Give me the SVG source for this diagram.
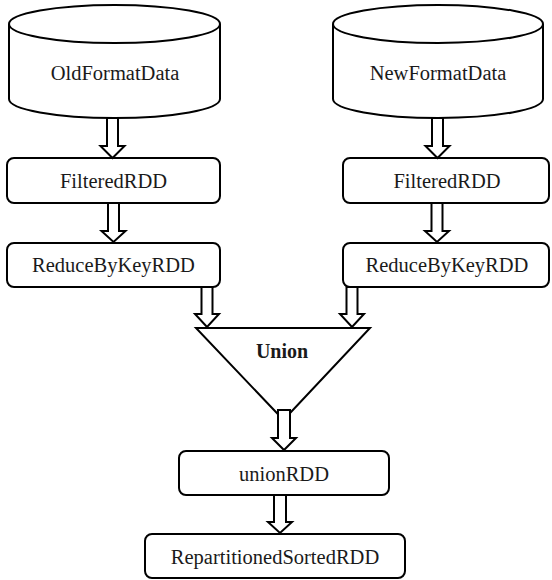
<svg xmlns="http://www.w3.org/2000/svg" width="552" height="580" viewBox="0 0 552 580">
<style>
.s{fill:#fff;stroke:#000;stroke-width:2}
.t{font-family:'Liberation Serif','Times New Roman',Times,serif;font-size:20.5px;fill:#1a1a1a;text-anchor:middle}
.b{font-weight:bold;font-size:20px}
.a{fill:#fff;stroke:#000;stroke-width:2;stroke-linejoin:miter}
</style>
<rect width="552" height="580" fill="#fff"/>
<g id="oldFormatData">
<path class="s" d="M9,24 V99 A105.5,19 0 0 0 220,99 V24"/>
<ellipse class="s" cx="114.5" cy="24" rx="105.5" ry="19"/>
<text class="t" x="115" y="80">OldFormatData</text>
</g>
<g id="newFormatData">
<path class="s" d="M333,24 V99 A105,19 0 0 0 543,99 V24"/>
<ellipse class="s" cx="438" cy="24" rx="105" ry="19"/>
<text class="t" x="438" y="80">NewFormatData</text>
</g>
<g id="filteredLeft">
<rect class="s" x="7" y="158" width="213" height="45" rx="7"/>
<text class="t" x="113.5" y="188">FilteredRDD</text>
</g>
<g id="filteredRight">
<rect class="s" x="343" y="158" width="206" height="45" rx="7"/>
<text class="t" x="447" y="188">FilteredRDD</text>
</g>
<g id="reduceLeft">
<rect class="s" x="7" y="243" width="213" height="44" rx="7"/>
<text class="t" x="113.5" y="272">ReduceByKeyRDD</text>
</g>
<g id="reduceRight">
<rect class="s" x="343" y="243" width="206" height="44" rx="7"/>
<text class="t" x="447" y="272">ReduceByKeyRDD</text>
</g>
<g id="union">
<polygon class="s" points="196,328 370,328 283.5,420"/>
<text class="t b" x="282" y="358">Union</text>
</g>
<g id="unionRDD">
<rect class="s" x="179" y="451" width="210" height="44" rx="7"/>
<text class="t" x="284" y="481">unionRDD</text>
</g>
<g id="repartitionedSortedRDD">
<rect class="s" x="145" y="534" width="260" height="44" rx="7"/>
<text class="t" x="275" y="564">RepartitionedSortedRDD</text>
</g>
<g id="connectors">
<path class="a" d="M107,118 H118 V146 H124.5 L112.5,158 L100.5,146 H107 Z"/>
<path class="a" d="M432,118 H443 V146 H449.5 L437.5,158 L425.5,146 H432 Z"/>
<path class="a" d="M108,203 H119 V231 H125.5 L113.5,242 L101.5,231 H108 Z"/>
<path class="a" d="M431.5,203 H442.5 V231 H449 L437,242 L425,231 H431.5 Z"/>
<path class="a" d="M201.5,287 H212.5 V314 H219 L207,327 L195,314 H201.5 Z"/>
<path class="a" d="M346.5,287 H357.5 V314 H364 L352,327 L340,314 H346.5 Z"/>
<path class="a" d="M278,410 H290 V438 H296 L284,450 L272,438 H278 Z"/>
<path class="a" d="M274,495 H286 V522 H292 L280,533 L268,522 H274 Z"/>
</g>
</svg>
